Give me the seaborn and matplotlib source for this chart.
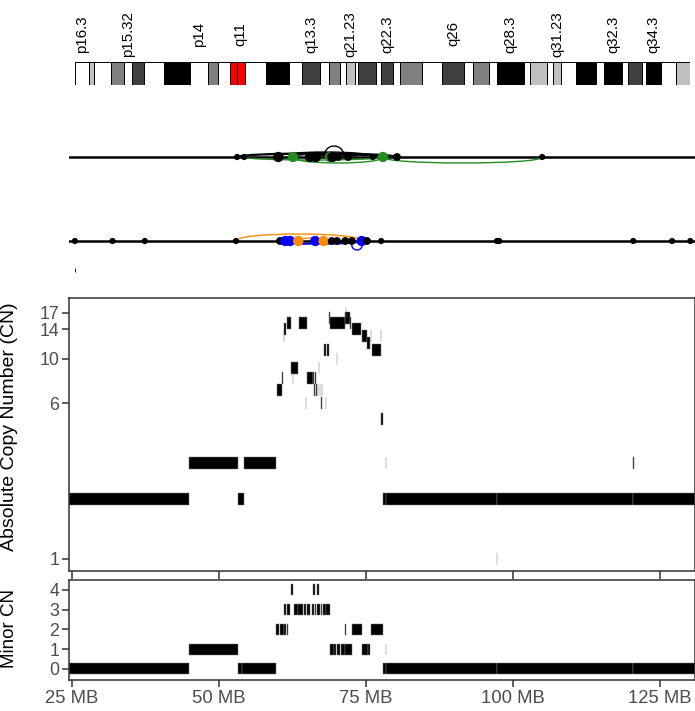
import matplotlib
matplotlib.use("Agg")
import numpy as np
import pandas as pd
import matplotlib.pyplot as plt
import seaborn as sns
from matplotlib.path import Path
from matplotlib.patches import PathPatch
from matplotlib.ticker import NullLocator, FixedLocator, FixedFormatter

# ---------------- data ----------------
# chromosome 4 cytobands (Mb)
band_names = ['p16.3','p16.2','p16.1','p15.33','p15.32','p15.31','p15.2','p15.1','p14','p13','p12','p11',
              'q11','q12','q13.1','q13.2','q13.3','q21.1','q21.21','q21.22','q21.23','q21.3','q22.1','q22.2',
              'q22.3','q23','q24','q25','q26','q27','q28.1','q28.2','q28.3','q31.1','q31.21','q31.22','q31.23',
              'q31.3','q32.1','q32.2','q32.3','q33','q34.1','q34.2','q34.3','q35.1','q35.2']
band_start = [0.0, 4.5, 6.0, 11.3, 15.2, 17.8, 21.3, 27.7, 35.8, 41.2, 44.6, 48.2, 50.4, 52.7, 59.5, 66.6,
              70.5, 76.3, 78.9, 82.4, 84.1, 86.9, 88.0, 93.7, 95.1, 98.8, 101.1, 107.7, 114.1, 120.8, 123.8,
              128.8, 131.1, 139.5, 141.5, 146.8, 148.5, 151.1, 155.6, 161.8, 164.5, 170.1, 171.9, 176.3,
              177.6, 182.1, 186.9]
chrom_len = 191.15
band_stain = ['gneg','gpos25','gneg','gpos50','gneg','gpos75','gneg','gpos100','gneg','gpos50','gneg','acen',
              'acen','gneg','gpos100','gneg','gpos75','gneg','gpos50','gneg','gpos25','gneg','gpos75','gneg',
              'gpos75','gneg','gpos50','gneg','gpos75','gneg','gpos50','gneg','gpos100','gneg','gpos25','gneg',
              'gpos25','gneg','gpos100','gneg','gpos100','gneg','gpos75','gneg','gpos100','gneg','gpos25']
band_labels = ['p16.3','p15.32','p14','q11','q13.3','q21.23','q22.3','q26','q28.3','q31.23','q32.3','q34.3']

# graph track 1: nodes and edges (Mb)
t1_node_x   = [53.1, 54.3, 60.1, 62.6, 65.5, 66.5, 68.9, 69.3, 70.3, 72.0, 76.2, 77.9, 80.3, 105.0]
t1_node_col = ['black','black','black','green','black','black','green','black','black','black','black','green','black','black']
t1_node_sz  = ['s','s','l','l','l','l','l','l','m','m','s','l','m','s']
t1_edge_from = [53.1, 54.3, 60.1, 62.6, 65.5, 67.9, 66.5, 72.0, 54.3, 62.6, 77.9]
t1_edge_to   = [80.3, 77.9, 76.2, 72.0, 80.3, 71.3, 69.3, 77.9, 77.9, 77.9, 105.0]
t1_edge_h    = [4, 3, 5, 3, 2.5, 11, 4, 2, -3, -6, -6]
t1_edge_col  = ['black']*8 + ['green']*3

# graph track 2
t2_node_x   = [25.5, 31.9, 37.4, 52.9, 60.4, 61.3, 62.1, 63.5, 66.4, 67.8, 69.2, 70.1, 71.5, 72.6,
               74.3, 75.2, 77.6, 97.3, 97.7, 120.5, 127.1, 130.2]
t2_node_col = ['black','black','black','black','black','blue','blue','orange','blue','orange','black','black',
               'black','black','blue','black','black','black','black','black','black','black']
t2_node_sz  = ['s','s','s','s','m','l','l','l','l','l','m','m','m','m','l','m','s','s','s','s','s','s']
t2_edge_from = [52.9, 63.5, 60.4, 62.1, 66.4]
t2_edge_to   = [74.3, 67.8, 74.3, 66.4, 74.3]
t2_edge_h    = [7, 3, -3, -3, -2]
t2_edge_col  = ['orange','orange','blue','blue','blue']
t2_loop_x    = [74.3]
t2_mark_x    = [25.5]

# total copy number segments (Mb, CN)
cn_start = [24.5, 44.9, 53.3, 54.3, 59.9, 60.75, 61.0, 61.15, 61.6, 62.3, 62.55, 63.6, 64.8, 65.0, 66.05,
            66.35, 66.1, 66.5, 66.8, 67.0, 67.2, 67.5, 67.3, 67.9, 68.45, 68.2, 68.8, 68.9, 70.1, 71.5,
            71.6, 72.3, 72.6, 74.4, 75.2, 75.9, 76.1, 77.6, 77.65, 77.9, 78.5, 97.3, 120.5, 78.4, 97.3, 120.5]
cn_end   = [44.9, 53.3, 54.3, 59.7, 60.7, 60.85, 61.08, 61.5, 62.3, 63.5, 62.62, 65.0, 64.84, 66.0, 66.2,
            66.45, 66.3, 66.65, 66.88, 67.05, 67.28, 67.56, 67.55, 68.2, 68.8, 68.25, 68.86, 71.5, 70.16, 72.3,
            71.66, 72.5, 74.2, 75.2, 75.7, 75.96, 77.6, 77.64, 77.9, 78.5, 97.3, 120.5, 131.0, 78.45, 97.34, 120.54]
cn_total = [2, 3, 2, 3, 7, 8, 13, 14, 15, 9, 8, 15, 6, 8, 8,
            8, 7, 7, 7, 9, 7, 7, 6, 11, 11, 6, 16, 15, 10, 16,
            17, 15, 14, 13, 12, 13, 11, 13, 5, 2, 2, 2, 2, 3, 1, 3]

# minor copy number segments
mi_start = [24.5, 53.3, 53.95, 77.9, 78.5, 97.3, 120.5,
            44.9, 68.9, 69.6, 70.1, 70.7, 71.5, 74.3, 75.4, 78.4,
            59.7, 60.35, 61.1, 61.6, 71.5, 72.6, 75.8,
            61.1, 61.6, 62.7, 63.5, 64.4, 65.0, 65.8, 66.3, 66.7, 67.3, 67.7, 68.3,
            62.2, 66.0, 66.7]
mi_end   = [44.9, 53.9, 59.7, 78.5, 97.3, 120.5, 131.0,
            53.3, 69.5, 70.0, 70.6, 71.4, 72.6, 75.3, 75.7, 78.44,
            60.25, 61.0, 61.5, 61.8, 71.55, 74.3, 77.9,
            61.4, 62.1, 63.4, 64.3, 64.9, 65.5, 66.2, 66.6, 67.2, 67.6, 68.2, 68.9,
            62.6, 66.4, 67.1]
mi_cn    = [0, 0, 0, 0, 0, 0, 0,
            1, 1, 1, 1, 1, 1, 1, 1, 1,
            2, 2, 2, 2, 2, 2, 2,
            3, 3, 3, 3, 3, 3, 3, 3, 3, 3, 3, 3,
            4, 4, 4]

x_ticks = [25, 50, 75, 100, 125]
x_ticklabels = ['25 MB', '50 MB', '75 MB', '100 MB', '125 MB']
cn_ticks = [1, 6, 10, 14, 17]
mi_ticks = [0, 1, 2, 3, 4]

# ---------------- style ----------------
sns.set_theme(style="white")
plt.rcParams['font.family'] = ['Liberation Sans', 'DejaVu Sans']

W, H = 695, 711
fig = plt.figure(figsize=(W / 100, H / 100), dpi=100)

def box(x0, y0, x1, y1):
    return [x0 / W, 1 - y1 / H, (x1 - x0) / W, (y1 - y0) / H]

XL = (24.5, 131.0)
SPINE = '#333333'
TICKC = '#4D4D4D'
stain_col = {'gneg': 'white', 'gpos25': '#C0C0C0', 'gpos50': '#808080',
             'gpos75': '#404040', 'gpos100': 'black', 'acen': '#FF0000'}
node_pal = {'black': 'black', 'green': '#228B22', 'blue': '#0000FF', 'orange': '#FF8C00'}
node_sizes = {'s': 20, 'm': 32, 'l': 55}

# ---------------- ideogram ----------------
ax_id = fig.add_axes(box(75, 62, 690, 85))
band_end = band_start[1:] + [chrom_len]
widths = np.subtract(band_end, band_start)
ax_id.bar(band_start, np.ones(len(band_start)), width=widths, align='edge',
          color=[stain_col[s] for s in band_stain], edgecolor='black', linewidth=0.7)
ax_id.set_xlim(0, chrom_len)
ax_id.set_ylim(0, 1)
ax_id.axis('off')
for name in band_labels:
    i = band_names.index(name)
    c = (band_start[i] + band_end[i]) / 2
    ax_id.text(c, 1 + 28 / 23, name, rotation=90, ha='center', va='center',
               fontsize=10.8, color='black', clip_on=False)

# ---------------- graph tracks ----------------
def draw_arc(ax, x1, x2, h, col):
    verts = [(x1, 0), (x1, 4 * h / 3), (x2, 4 * h / 3), (x2, 0)]
    codes = [Path.MOVETO, Path.CURVE4, Path.CURVE4, Path.CURVE4]
    ax.add_patch(PathPatch(Path(verts, codes), fill=False, edgecolor=node_pal[col],
                           linewidth=1.0, zorder=3))

def track(ax, nx, ncol, nsz, ef, et, eh, ec, ylim):
    ax.axhline(0, color='black', lw=1.8, zorder=2)
    for a, b, h, c in zip(ef, et, eh, ec):
        draw_arc(ax, a, b, h, c)
    df = pd.DataFrame({'x': nx, 'y': np.zeros(len(nx)), 'col': ncol, 'sz': nsz})
    sns.scatterplot(data=df, x='x', y='y', hue='col', palette=node_pal, size='sz',
                    sizes=node_sizes, legend=False, linewidth=0, ax=ax, zorder=5)
    ax.set_xlim(*XL)
    ax.set_ylim(*ylim)
    ax.axis('off')

ax_t1 = fig.add_axes(box(69, 120, 695, 195))
track(ax_t1, t1_node_x, t1_node_col, t1_node_sz, t1_edge_from, t1_edge_to, t1_edge_h, t1_edge_col, (-38, 37))

ax_t2 = fig.add_axes(box(69, 205, 695, 280))
track(ax_t2, t2_node_x, t2_node_col, t2_node_sz, t2_edge_from, t2_edge_to, t2_edge_h, t2_edge_col, (-39, 36))
for x in t2_loop_x:
    verts = [(x - 1.6, 0), (x - 2.3, -12), (x + 0.7, -12), (x, 0)]
    codes = [Path.MOVETO, Path.CURVE4, Path.CURVE4, Path.CURVE4]
    ax_t2.add_patch(PathPatch(Path(verts, codes), fill=False, edgecolor='#0000FF', lw=1.0, zorder=3))
ax_t2.vlines(t2_mark_x, -31, -27, color='black', lw=0.6)

# ---------------- CN panels ----------------
def style_axes(ax):
    for s in ax.spines.values():
        s.set_visible(True)
        s.set_color(SPINE)
        s.set_linewidth(1.1)
    ax.set_xlim(*XL)
    ax.set_xlabel('')
    ax.set_ylabel('')

ax_cn = fig.add_axes(box(69, 298, 695, 571))
f = np.exp(6 / 87)
cn_arr = np.array(cn_total, dtype=float)
ax_cn.bar(cn_start, cn_arr * f - cn_arr / f, bottom=cn_arr / f,
          width=np.subtract(cn_end, cn_start), align='edge',
          color='black', edgecolor='#7a7a7a', linewidth=0.35)
ax_cn.set_yscale('log')
ax_cn.set_ylim(0.87, 20.1)
style_axes(ax_cn)
ax_cn.yaxis.set_major_locator(FixedLocator(cn_ticks))
ax_cn.yaxis.set_major_formatter(FixedFormatter([str(t) for t in cn_ticks]))
ax_cn.yaxis.set_minor_locator(NullLocator())
ax_cn.set_xticks(x_ticks)
ax_cn.tick_params(axis='x', bottom=True, labelbottom=False, direction='out', length=6,
                  width=1.1, color=SPINE)
ax_cn.tick_params(axis='y', left=True, direction='out', length=5, width=1.1, color=SPINE,
                  labelsize=12.8, labelcolor=TICKC, pad=2)

ax_mi = fig.add_axes(box(69, 580, 695, 680))
h = 5.5 / 19.75
ax_mi.bar(mi_start, 2 * h, bottom=np.array(mi_cn) - h,
          width=np.subtract(mi_end, mi_start), align='edge',
          color='black', edgecolor='#7a7a7a', linewidth=0.35)
ax_mi.set_ylim(-0.56, 4.5)
style_axes(ax_mi)
ax_mi.set_yticks(mi_ticks)
ax_mi.set_yticklabels([str(t) for t in mi_ticks])
ax_mi.set_xticks(x_ticks)
ax_mi.set_xticklabels(x_ticklabels)
ax_mi.tick_params(axis='x', bottom=True, direction='out', length=5, width=1.1, color=SPINE,
                  labelsize=13.3, labelcolor=TICKC, pad=2)
ax_mi.tick_params(axis='y', left=True, direction='out', length=5, width=1.1, color=SPINE,
                  labelsize=12.8, labelcolor=TICKC, pad=2)

fig.text(10 / W, 1 - 427 / H, 'Absolute Copy Number (CN)', rotation=90, ha='center', va='center',
         fontsize=14, color='black')
fig.text(10 / W, 1 - 629 / H, 'Minor CN', rotation=90, ha='center', va='center',
         fontsize=13.5, color='black')

fig.savefig('out.png', dpi=100)
